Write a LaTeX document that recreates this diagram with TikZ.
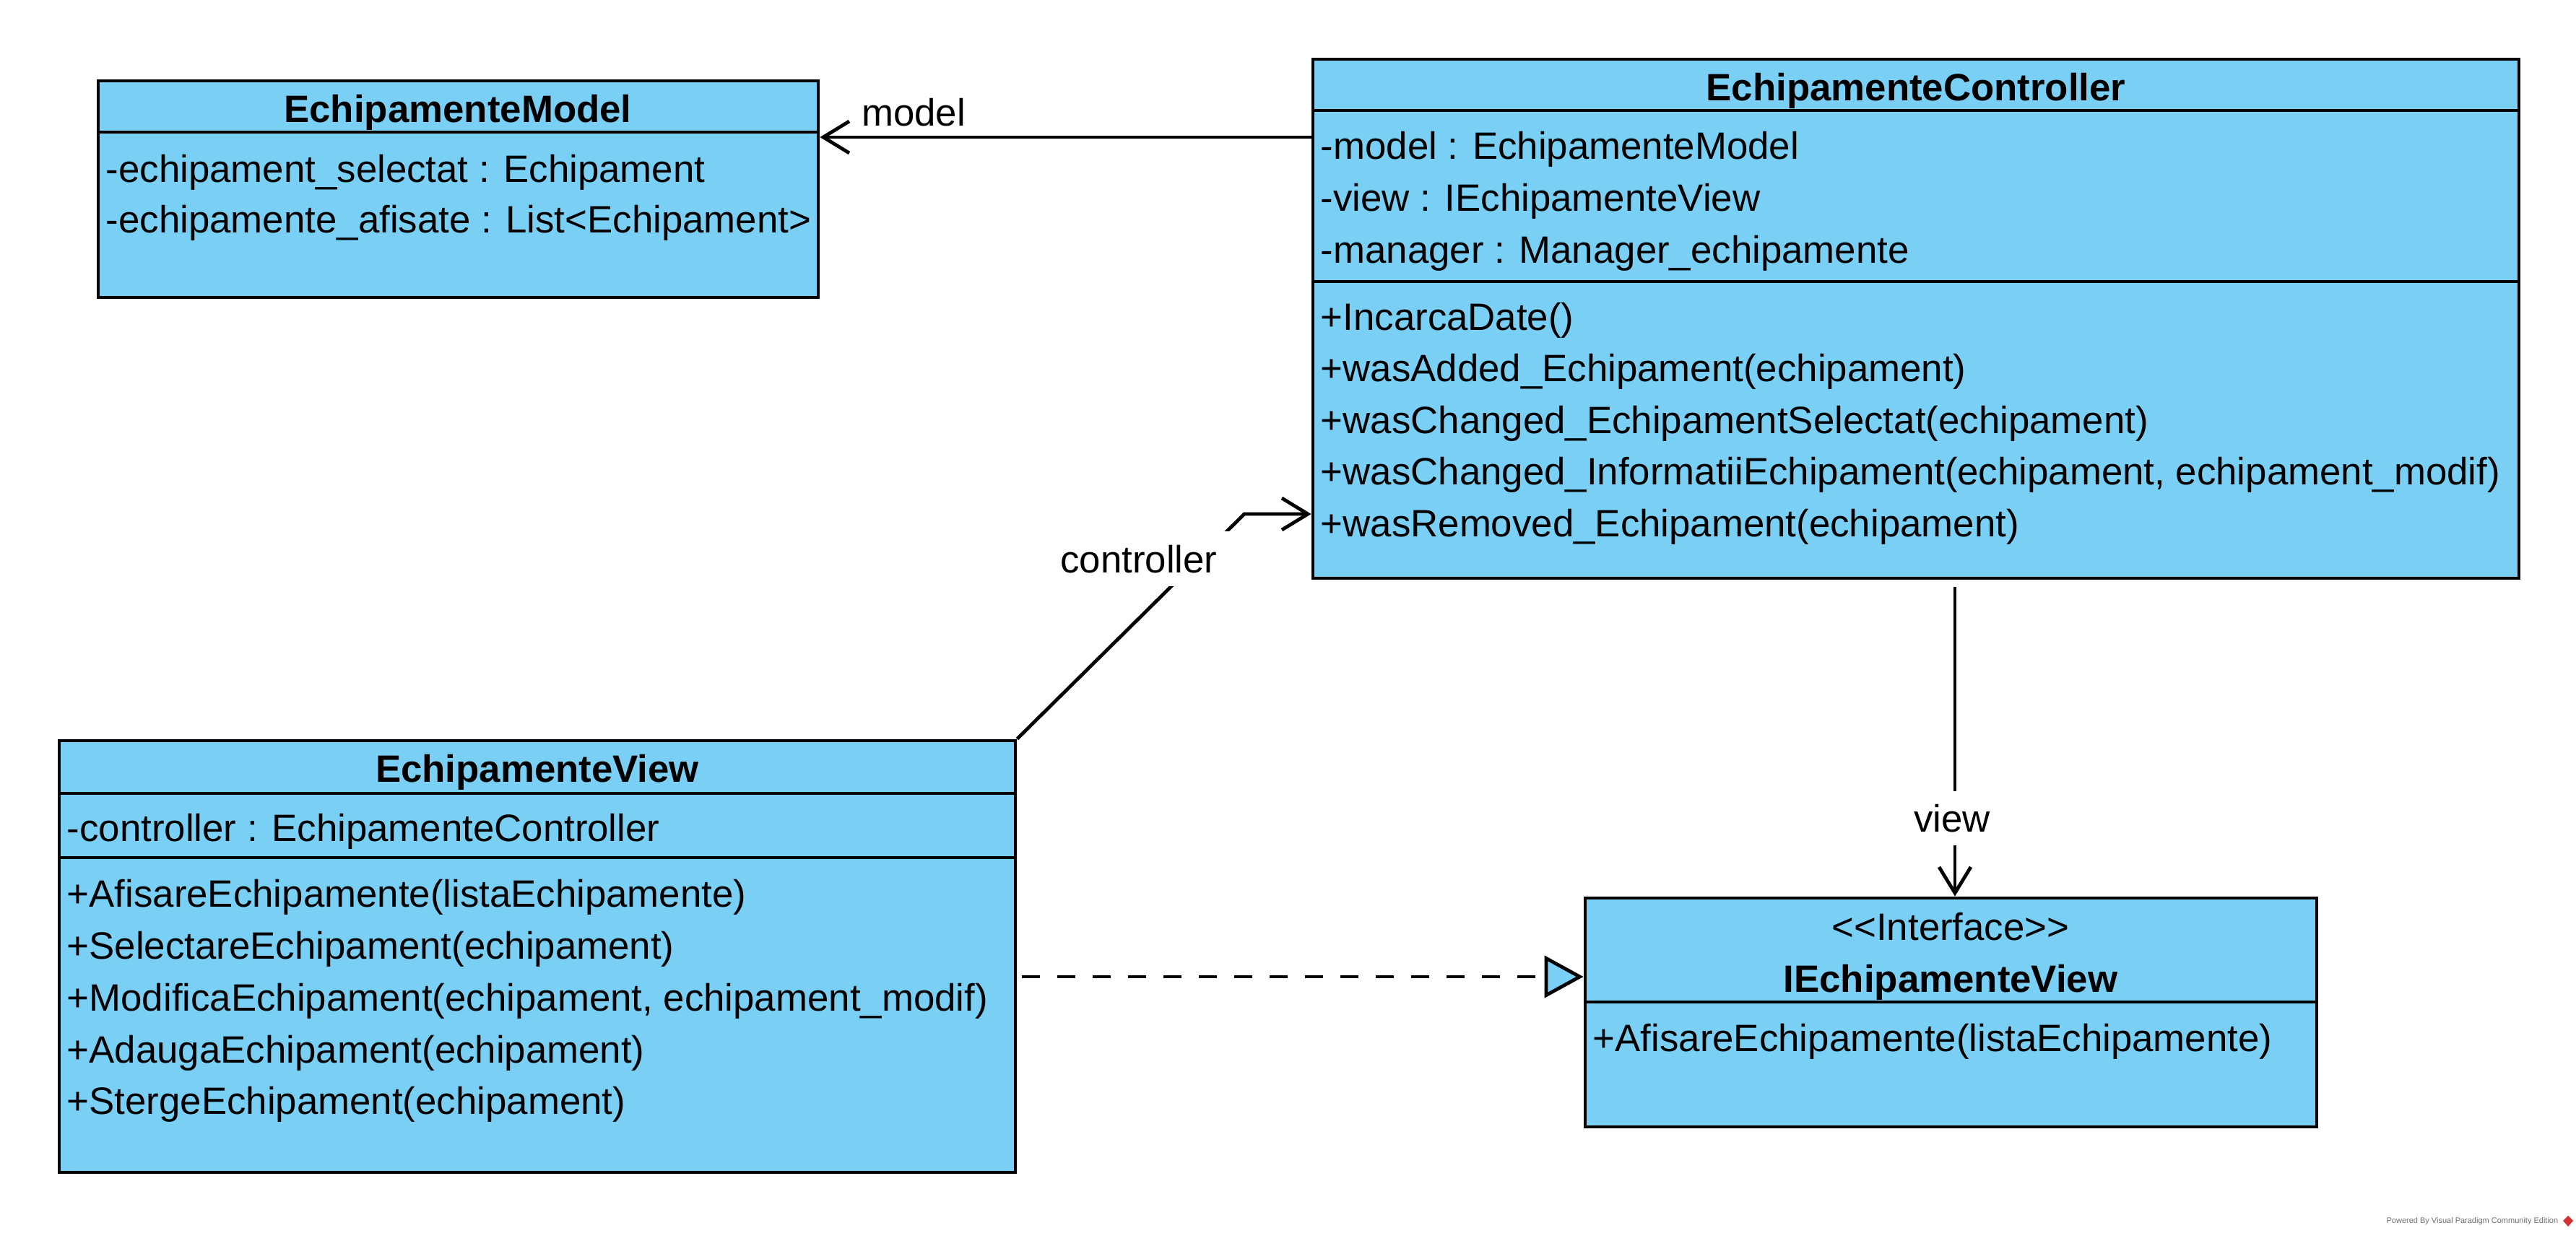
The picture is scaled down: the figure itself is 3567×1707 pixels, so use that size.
\documentclass[tikz,border=0pt]{standalone}
\usepackage{fontspec}
\setmainfont{Liberation Sans}
\usetikzlibrary{arrows.meta,fit}
\definecolor{umlblue}{RGB}{122,207,245}
\definecolor{vpgray}{RGB}{110,110,110}
\definecolor{vpred}{RGB}{214,48,49}

\begin{document}
\begin{tikzpicture}[x=0.25pt,y=-0.25pt,
  classbox/.style={draw, fill=umlblue, line width=1.2pt, inner sep=0pt},
  sepline/.style={line width=1.2pt},
  member/.style={anchor=base west, inner sep=0pt, font=\fontsize{13.2}{15}\selectfont},
  classname/.style={anchor=base, inner sep=0pt, font=\fontsize{13.2}{15}\selectfont\bfseries},
  stereo/.style={anchor=base, inner sep=0pt, font=\fontsize{13.2}{15}\selectfont},
  assoc/.style={line width=1.2pt, -{Straight Barb[length=9pt,width=11pt,line width=1.2pt]}},
  realize/.style={line width=1.2pt, dash pattern=on 6.25pt off 6pt,
    -{Triangle[length=13.5pt,width=14.5pt,fill=umlblue,line width=1.2pt]}},
  rolelabel/.style={anchor=base, font=\fontsize{13.2}{15}\selectfont},
]
\useasboundingbox[fill=white] (0,0) rectangle (3567,1707);

% ---------- EchipamenteModel ----------
\node[classbox, fit={(136,112) (1133,412)}] (model) {};
\draw[sepline] (model.west |- 0,183) -- (model.east |- 0,183);
\node[classname] (modelname) at (634,169) {EchipamenteModel};
\node[member] (modela1) at (146,252) {-echipament\_selectat : Echipament};
\node[member] (modela2) at (146,322) {-echipamente\_afisate : List<Echipament>};

% ---------- EchipamenteController ----------
\node[classbox, fit={(1818,82) (3488,801)}] (ctrl) {};
\draw[sepline] (ctrl.west |- 0,153) -- (ctrl.east |- 0,153);
\draw[sepline] (ctrl.west |- 0,390) -- (ctrl.east |- 0,390);
\node[classname] (ctrlname) at (2653,139) {EchipamenteController};
\node[member] (ctrla1) at (1828,220) {-model : EchipamenteModel};
\node[member] (ctrla2) at (1828,292) {-view : IEchipamenteView};
\node[member] (ctrla3) at (1828,364) {-manager : Manager\_echipamente};
\node[member] (ctrlo1) at (1828,457) {+IncarcaDate()};
\node[member] (ctrlo2) at (1828,528) {+wasAdded\_Echipament(echipament)};
\node[member] (ctrlo3) at (1828,600) {+wasChanged\_EchipamentSelectat(echipament)};
\node[member] (ctrlo4) at (1828,671) {+wasChanged\_InformatiiEchipament(echipament, echipament\_modif)};
\node[member] (ctrlo5) at (1828,743) {+wasRemoved\_Echipament(echipament)};

% ---------- EchipamenteView ----------
\node[classbox, fit={(82,1026) (1406,1624)}] (view) {};
\draw[sepline] (view.west |- 0,1099) -- (view.east |- 0,1099);
\draw[sepline] (view.west |- 0,1188) -- (view.east |- 0,1188);
\node[classname] (viewname) at (744,1083) {EchipamenteView};
\node[member] (viewa1) at (92,1165) {-controller : EchipamenteController};
\node[member] (viewo1) at (92,1256) {+AfisareEchipamente(listaEchipamente)};
\node[member] (viewo2) at (92,1328) {+SelectareEchipament(echipament)};
\node[member] (viewo3) at (92,1400) {+ModificaEchipament(echipament, echipament\_modif)};
\node[member] (viewo4) at (92,1472) {+AdaugaEchipament(echipament)};
\node[member] (viewo5) at (92,1543) {+StergeEchipament(echipament)};

% ---------- IEchipamenteView ----------
\node[classbox, fit={(2195,1244) (3208,1561)}] (iface) {};
\draw[sepline] (iface.west |- 0,1388) -- (iface.east |- 0,1388);
\node[stereo] (ifacestereo) at (2701,1302) {<\kern0pt<Interface>\kern0pt>};
\node[classname] (ifacename) at (2701,1374) {IEchipamenteView};
\node[member] (ifaceo1) at (2205,1456) {+AfisareEchipamente(listaEchipamente)};

% ---------- connectors ----------
\draw[assoc] (ctrl.west |- 0,190) -- (model.east |- 0,190);
\node[rolelabel, inner sep=0pt] (lblmodel) at (1265,174) {model};

\coordinate (ctrlbend) at (1723,712);
\draw[assoc] (view.north east) -- (ctrlbend) -- (ctrl.west |- ctrlbend);
\node[rolelabel, fill=white, inner xsep=4pt, inner ysep=4.6pt] (lblctrl) at (1577,793) {controller};

\draw[assoc, shorten <=2.5pt] (ctrl.south -| 2707,0) -- (iface.north -| 2707,0);
\node[rolelabel, fill=white, inner xsep=3pt, inner ysep=4.5pt] (lblview) at (2703,1152) {view};

\draw[realize, shorten <=1.75pt] (view.east |- 0,1353) -- (iface.west |- 0,1353);

% ---------- footer ----------
\node[anchor=base east, inner sep=0pt, text=vpgray, font=\fontsize{2.75}{3}\selectfont] (footer) at (3543,1694) {Powered By Visual Paradigm Community Edition};
\fill[vpred] (3556,1684) -- (3563,1691) -- (3556,1699) -- (3549,1691) -- cycle;
\end{tikzpicture}
\end{document}
